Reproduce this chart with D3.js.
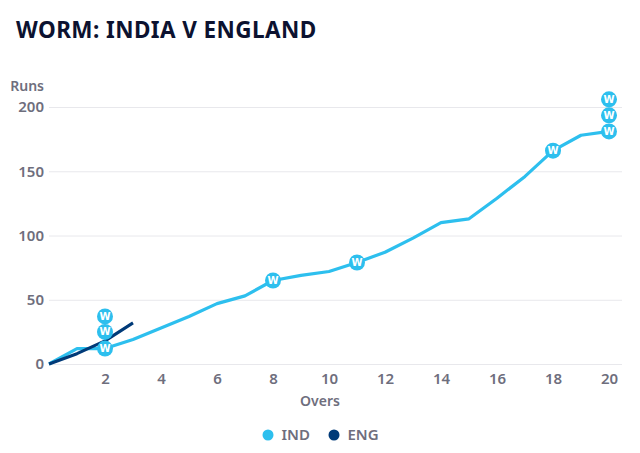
<!DOCTYPE html>
<html><head><meta charset="utf-8">
<script src="https://cdn.jsdelivr.net/npm/d3@7/dist/d3.min.js"></script>
<style>html,body{margin:0;background:#fff}svg{display:block}text{font-family:"Noto Sans","Open Sans",sans-serif}</style>
</head><body><div id="c"></div>
<script>
const overs=[0,1,2,3,4,5,6,7,8,9,10,11,12,13,14,15,16,17,18,19,20];
const indRuns=[0,12,12,19,28,37,47,53,65,69,72,79,87,98,110,113,129,146,166,178,181];
const engOvers=[0,1,2,3];
const engRuns=[0,8,18,32];
const wicketOvers=[2,2,2,8,11,18,20,20,20];
const wicketRuns=[12,25,37,65,79,166,181,193.5,206];
const xTicks=[2,4,6,8,10,12,14,16,18,20];
const yTicks=[0,50,100,150,200];
const legend=[["IND","#2dbfee"],["ENG","#003a78"]];
const svg=d3.select("#c").append("svg").attr("width",640).attr("height",453);
const x=d3.scaleLinear().domain([0,20]).range([49,609]);
const y=d3.scaleLinear().domain([0,200]).range([364,107]);
const grey="#6e6e7d";
svg.append("text").attr("x",16).attr("y",38).attr("font-size",22.5).attr("font-weight",700).attr("letter-spacing",0.42).attr("fill","#0c1230").text("WORM: INDIA V ENGLAND");
const gy=svg.append("g").attr("transform","translate(49,0)").call(d3.axisLeft(y).tickValues(yTicks).tickSize(0).tickPadding(5));
gy.select(".domain").remove();
gy.selectAll("line").attr("x1",0).attr("x2",573).attr("stroke","#e8e8ec").attr("stroke-width",1);
gy.selectAll("text").attr("font-size",15).attr("font-weight",600).attr("fill",grey).style("font-family",'"Noto Sans"');
const gx=svg.append("g").attr("transform","translate(0,364)").call(d3.axisBottom(x).tickValues(xTicks).tickSize(0).tickPadding(9));
gx.select(".domain").remove();
gx.selectAll("text").attr("font-size",15).attr("font-weight",600).attr("fill",grey).style("font-family",'"Noto Sans"');
svg.append("text").attr("x",44).attr("y",91).attr("text-anchor","end").attr("font-size",14).attr("font-weight",600).attr("fill",grey).text("Runs");
svg.append("text").attr("x",320).attr("y",406).attr("text-anchor","middle").attr("font-size",14).attr("font-weight",600).attr("fill",grey).text("Overs");
const line=d3.line().x(d=>x(d[0])).y(d=>y(d[1]));
svg.append("path").attr("d",line(overs.map((o,i)=>[o,indRuns[i]]))).attr("fill","none").attr("stroke",legend[0][1]).attr("stroke-width",3.2).attr("stroke-linejoin","round");
svg.append("path").attr("d",line(engOvers.map((o,i)=>[o,engRuns[i]]))).attr("fill","none").attr("stroke",legend[1][1]).attr("stroke-width",3).attr("stroke-linejoin","round");
const w=svg.append("g").selectAll("g").data(wicketOvers.map((o,i)=>[o,wicketRuns[i]])).join("g").attr("transform",d=>`translate(${x(d[0])},${y(d[1])})`);
w.append("circle").attr("r",8).attr("fill",legend[0][1]);
w.append("text").attr("text-anchor","middle").attr("y",3.6).attr("font-size",10).attr("font-weight",700).attr("fill","#fff").style("font-family",'"DejaVu Sans"').text("W");
const lx=[268,334];
legend.forEach((l,i)=>{
  svg.append("circle").attr("cx",lx[i]).attr("cy",435).attr("r",5.5).attr("fill",l[1]);
  svg.append("text").attr("x",lx[i]+13.5).attr("y",440).attr("font-size",15).attr("font-weight",600).attr("fill",grey).text(l[0]);
});
</script></body></html>
